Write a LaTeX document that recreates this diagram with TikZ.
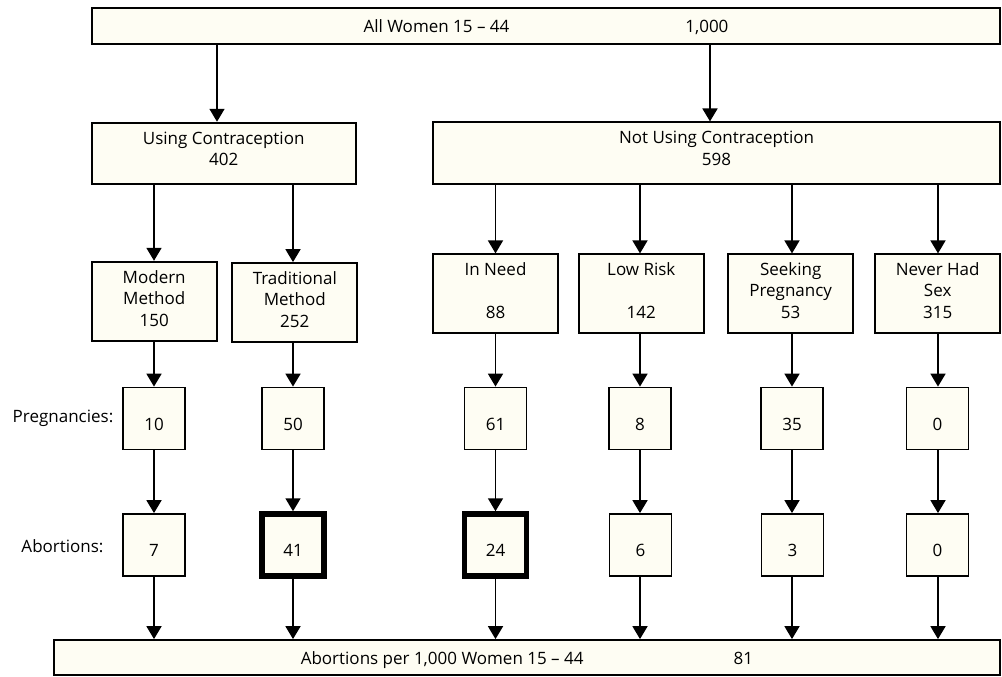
\documentclass[tikz,border=0pt]{standalone}
\usepackage{fontspec}
\setmainfont{Open Sans}
\usetikzlibrary{arrows.meta}
\definecolor{boxfill}{RGB}{254,253,243}
\newcommand{\lift}[1]{\rule[-#1pt]{0pt}{#1pt}}
\begin{document}
\begin{tikzpicture}[x=1pt,y=-1pt,
  every node/.style={font=\fontsize{17pt}{21.5pt}\selectfont},
  box/.style={draw=black, line width=1.8pt, fill=boxfill, inner sep=0pt, align=center},
  catbox/.style={box, minimum width=125pt, minimum height=79pt},
  num/.style={box, minimum width=62pt, minimum height=62pt, text height=23pt, text depth=0pt},
  bold/.style={line width=5.5pt},
  arr/.style={line width=1.8pt, -{Triangle[width=15pt,length=13pt]}},
  rowlabel/.style={anchor=base}
]
\useasboundingbox (0,0) rectangle (1002,677);

% top level
\node[box, minimum width=908pt, minimum height=36pt, text height=12pt, text depth=0pt] (all) at (546,26.3) {All Women 15 – 44\hspace{176pt}1,000};

% second level
\node[box, minimum width=264pt, minimum height=61.3pt] (use) at (223.7,153.3) {Using Contraception\\402\lift{9}};
\node[box, minimum width=567pt, minimum height=61.3pt] (not) at (716.5,153) {Not Using Contraception\\598\lift{9}};

% third level
\node[catbox] (modern) at (154.2,301.2) {Modern\\Method\\150\lift{6}};
\node[catbox] (trad) at (294.8,302.5) {Traditional\\Method\\252\lift{6}};
\node[catbox] (need) at (495.5,293.8) {In Need\\[21.5pt]88\lift{7.5}};
\node[catbox] (low) at (641.3,293.8) {Low Risk\\[21.5pt]142\lift{7.5}};
\node[catbox] (seek) at (790.7,293.8) {Seeking\\Pregnancy\\53\lift{7.5}};
\node[catbox] (never) at (937.7,293.8) {Never Had\\Sex\\315\lift{7.5}};

% pregnancies
\node[num] (p1) at (154,418.5) {10};
\node[num] (p2) at (293,418.5) {50};
\node[num] (p3) at (495.5,418.5) {61};
\node[num] (p4) at (640,418.5) {8};
\node[num] (p5) at (792,418.5) {35};
\node[num] (p6) at (937.5,418.5) {0};

% abortions
\node[num] (a1) at (154,545) {7};
\node[num, bold] (a2) at (293,545) {41};
\node[num, bold] (a3) at (495.5,545) {24};
\node[num] (a4) at (640.5,545) {6};
\node[num] (a5) at (792.5,545) {3};
\node[num] (a6) at (937.5,545) {0};

% bottom
\node[box, minimum width=946.3pt, minimum height=35pt, text height=13pt, text depth=0pt] (rate) at (526.9,657.5) {Abortions per 1,000 Women 15 – 44\hspace{150pt}81};

% row labels
\node[rowlabel] (lp) at (63,422) {Pregnancies:};
\node[rowlabel] (la) at (62.5,552) {Abortions:};

% column coordinates
\coordinate (t1) at (217,0);
\coordinate (t2) at (710,0);
\coordinate (c1) at (154,0);
\coordinate (c2) at (293,0);
\coordinate (c3) at (495.5,0);
\coordinate (c4) at (640,0);
\coordinate (c5) at (792,0);
\coordinate (c6) at (938,0);

% connectors
\draw[arr] (all.south -| t1) -- (use.north -| t1);
\draw[arr] (all.south -| t2) -- (not.north -| t2);

\draw[arr] (use.south -| c1) -- (modern.north -| c1);
\draw[arr] (use.south -| c2) -- (trad.north -| c2);
\draw[arr] (not.south -| c3) -- (need.north -| c3);
\draw[arr] (not.south -| c4) -- (low.north -| c4);
\draw[arr] (not.south -| c5) -- (seek.north -| c5);
\draw[arr] (not.south -| c6) -- (never.north -| c6);

\draw[arr] (modern.south -| c1) -- (p1.north -| c1);
\draw[arr] (trad.south -| c2) -- (p2.north -| c2);
\draw[arr] (need.south -| c3) -- (p3.north -| c3);
\draw[arr] (low.south -| c4) -- (p4.north -| c4);
\draw[arr] (seek.south -| c5) -- (p5.north -| c5);
\draw[arr] (never.south -| c6) -- (p6.north -| c6);

\draw[arr] (p1.south -| c1) -- (a1.north -| c1);
\draw[arr] (p2.south -| c2) -- (a2.north -| c2);
\draw[arr] (p3.south -| c3) -- (a3.north -| c3);
\draw[arr] (p4.south -| c4) -- (a4.north -| c4);
\draw[arr] (p5.south -| c5) -- (a5.north -| c5);
\draw[arr] (p6.south -| c6) -- (a6.north -| c6);

\draw[arr] (a1.south -| c1) -- (rate.north -| c1);
\draw[arr] (a2.south -| c2) -- (rate.north -| c2);
\draw[arr] (a3.south -| c3) -- (rate.north -| c3);
\draw[arr] (a4.south -| c4) -- (rate.north -| c4);
\draw[arr] (a5.south -| c5) -- (rate.north -| c5);
\draw[arr] (a6.south -| c6) -- (rate.north -| c6);
\end{tikzpicture}
\end{document}
